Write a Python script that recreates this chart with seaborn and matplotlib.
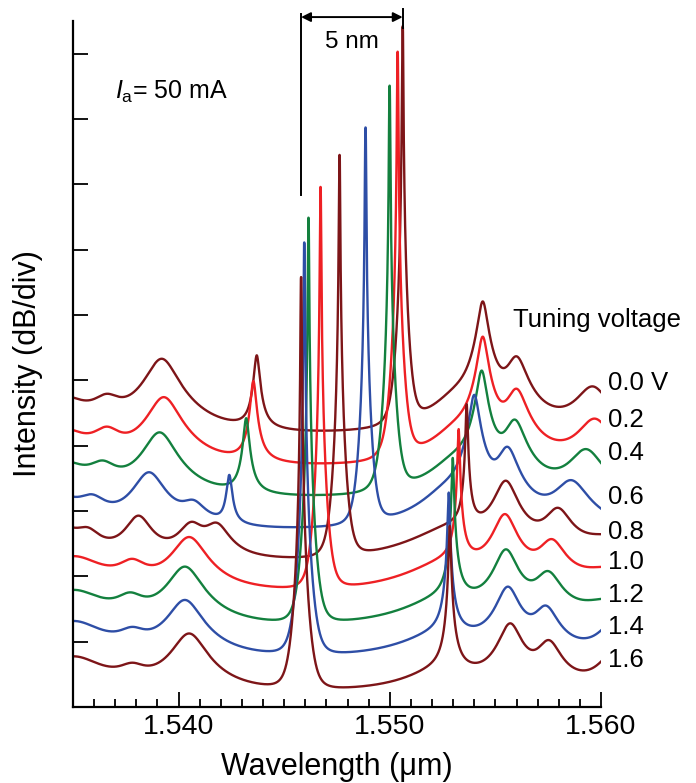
import numpy as np
import pandas as pd
import matplotlib
matplotlib.use("Agg")
import matplotlib.pyplot as plt
import seaborn as sns

# tuning voltages, one spectrum each (top to bottom)
voltages = ["0.0 V", "0.2", "0.4", "0.6", "0.8", "1.0", "1.2", "1.4", "1.6"]
trace_colors = ["#7d1518", "#ee2024", "#13803e", "#2e4ea6",
                "#7d1518", "#ee2024", "#13803e", "#2e4ea6", "#7d1518"]

# vertical offset of each trace (dB, floor level)
offsets_db = [40.7, 35.8, 31.1, 26.2, 21.3, 16.5, 11.3, 6.6, 1.5]

# main lasing peak of each trace
main_um = [1.55061, 1.55037, 1.54999, 1.54885, 1.54762, 1.54672, 1.54615, 1.54595, 1.54580]
main_db = [63.5, 64.5, 64.0, 62.5, 63.2, 63.1, 63.6, 64.5, 64.3]
main_width_nm = 0.02

# side modes of each trace: centre (um), height above floor (dB), half width (nm)
mode_um = [
    [1.5345, 1.5366, 1.5392, 1.5437, 1.5532, 1.5544, 1.5560, 1.5596],
    [1.5345, 1.5366, 1.5393, 1.54354, 1.5532, 1.5544, 1.5560, 1.5597],
    [1.5345, 1.5364, 1.5391, 1.5432, 1.5531, 1.55435, 1.55592, 1.55929],
    [1.5342, 1.5359, 1.5386, 1.5407, 1.5424, 1.5527, 1.5540, 1.55557, 1.55859],
    [1.5343, 1.5357, 1.5381, 1.5406, 1.5418, 1.5530, 1.55364, 1.55549, 1.55796, 1.5605],
    [1.5350, 1.5378, 1.5405, 1.5528, 1.55326, 1.55545, 1.55767, 1.5605],
    [1.5350, 1.5377, 1.5403, 1.5526, 1.55298, 1.5555, 1.55749, 1.5605],
    [1.5350, 1.5378, 1.5403, 1.5525, 1.55279, 1.55559, 1.55739, 1.5606],
    [1.5350, 1.5378, 1.5405, 1.5525, 1.55284, 1.5557, 1.55753, 1.5606],
]
mode_db = [
    [6.3, 5.2, 12.5, 13.0, 5.0, 21.3, 12.3, 8.0],
    [6.3, 5.4, 11.5, 14.0, 5.0, 20.8, 12.3, 8.0],
    [6.0, 4.8, 10.8, 13.0, 5.0, 20.3, 12.3, 8.0],
    [5.8, 4.5, 9.5, 4.0, 9.0, 5.0, 21.5, 13.0, 8.0],
    [6.0, 4.0, 7.5, 6.0, 6.0, 5.5, 25.0, 13.0, 8.3, 4.0],
    [6.3, 4.5, 9.3, 5.0, 26.0, 12.7, 8.3, 4.0],
    [6.3, 4.3, 10.0, 4.5, 26.8, 12.5, 8.6, 4.5],
    [6.3, 3.5, 9.6, 4.0, 26.2, 11.5, 8.1, 6.0],
    [6.0, 3.2, 9.6, 3.5, 26.2, 11.0, 8.0, 6.5],
]
mode_nm = [
    [1.2, 0.7, 0.7, 0.12, 1.2, 0.21, 0.45, 0.75],
    [1.2, 0.7, 0.7, 0.12, 1.2, 0.21, 0.45, 0.75],
    [1.2, 0.7, 0.7, 0.12, 1.2, 0.21, 0.45, 0.75],
    [1.2, 0.7, 0.7, 0.6, 0.12, 1.2, 0.21, 0.45, 0.75],
    [1.2, 0.6, 0.6, 0.6, 0.6, 2.0, 0.04, 0.5, 0.6, 1.5],
    [1.5, 0.7, 0.75, 2.0, 0.04, 0.5, 0.6, 1.5],
    [1.5, 0.7, 0.75, 2.0, 0.04, 0.5, 0.6, 1.5],
    [1.5, 0.7, 0.75, 2.0, 0.04, 0.5, 0.55, 0.7],
    [1.5, 0.7, 0.75, 1.8, 0.04, 0.5, 0.55, 0.7],
]

# height (dB) of each voltage label at the right edge
label_y = [49.6, 43.9, 38.9, 32.1, 26.8, 22.2, 17.1, 12.2, 7.2]

plt.rcParams["font.family"] = ["Liberation Sans", "DejaVu Sans"]
plt.rcParams["mathtext.fontset"] = "custom"
plt.rcParams["mathtext.rm"] = "Liberation Sans"
plt.rcParams["mathtext.it"] = "Liberation Sans:italic"

# wavelength grid, with the peak centres added so the spikes are drawn at full height
lam = np.union1d(np.linspace(1.535, 1.560, 25001), np.array(main_um))

rows = []
for k, v in enumerate(voltages):
    lin = np.ones_like(lam)
    for c, h, w in zip(mode_um[k], mode_db[k], mode_nm[k]):
        lin += (10 ** (h / 10) - 1) / (1 + ((lam - c) * 1e3 / w) ** 2)
    lin += (10 ** (main_db[k] / 10) - 1) / (1 + ((lam - main_um[k]) * 1e3 / main_width_nm) ** 4)
    db = offsets_db[k] + 10 * np.log10(lin)
    rows.append(pd.DataFrame({"wavelength": lam, "intensity": db, "voltage": v}))
df = pd.concat(rows, ignore_index=True)

fig = plt.figure(figsize=(6.96, 7.83), dpi=100)
ax = fig.add_axes([73 / 696, 76 / 783, 528 / 696, 686 / 783])

sns.lineplot(data=df, x="wavelength", y="intensity", hue="voltage",
             hue_order=voltages, palette=dict(zip(voltages, trace_colors)),
             estimator=None, sort=False, lw=1.7, legend=False, ax=ax)

ax.set_xlim(1.535, 1.560)
ax.set_ylim(0, 105)
ax.set_xticks([1.540, 1.550, 1.560])
ax.set_xticklabels(["1.540", "1.550", "1.560"])
ax.set_xticks(np.arange(1.536, 1.5600, 0.001), minor=True)
ax.set_yticks(np.arange(10, 101, 10))
ax.set_yticklabels([])
ax.tick_params(axis="x", which="major", direction="in", length=11, width=1.3,
               labelsize=20.5, pad=5)
ax.tick_params(axis="x", which="minor", direction="in", length=6, width=1.3)
ax.tick_params(axis="y", direction="in", length=10.5, width=1.3)
for s in ["top", "right"]:
    ax.spines[s].set_visible(False)
for s in ["left", "bottom"]:
    ax.spines[s].set_linewidth(1.6)
ax.set_xlabel("Wavelength (\u03bcm)", fontsize=22, labelpad=9)
ax.set_ylabel("Intensity (dB/div)", fontsize=22, labelpad=18)

for v, yl in zip(voltages, label_y):
    ax.text(1.56033, yl, v, fontsize=18.5, ha="left", va="center", clip_on=False)
ax.text(1.55583, 59.2, "Tuning voltage", fontsize=18.5, ha="left", va="center")
ax.text(1.53699, 94.1, r"$I_{\rm a}$= 50 mA", fontsize=18, ha="left", va="center")

# 5 nm span marker between the outermost lasing peaks
x_lo, x_hi = main_um[-1], main_um[0]
ax.plot([x_lo, x_lo], [78.4, 106.1], color="k", lw=1.4, clip_on=False)
ax.plot([x_hi, x_hi], [104.0, 106.8], color="k", lw=1.4, clip_on=False)
ax.annotate("", xy=(x_lo, 105.6), xytext=(x_hi, 105.6), annotation_clip=False,
            arrowprops=dict(arrowstyle="<|-|>", color="k", lw=1.4,
                            mutation_scale=14, shrinkA=0, shrinkB=0))
ax.text((x_lo + x_hi) / 2, 101.8, "5 nm", fontsize=17.5, ha="center", va="center")

fig.savefig("out.png", dpi=100)
plt.close(fig)
